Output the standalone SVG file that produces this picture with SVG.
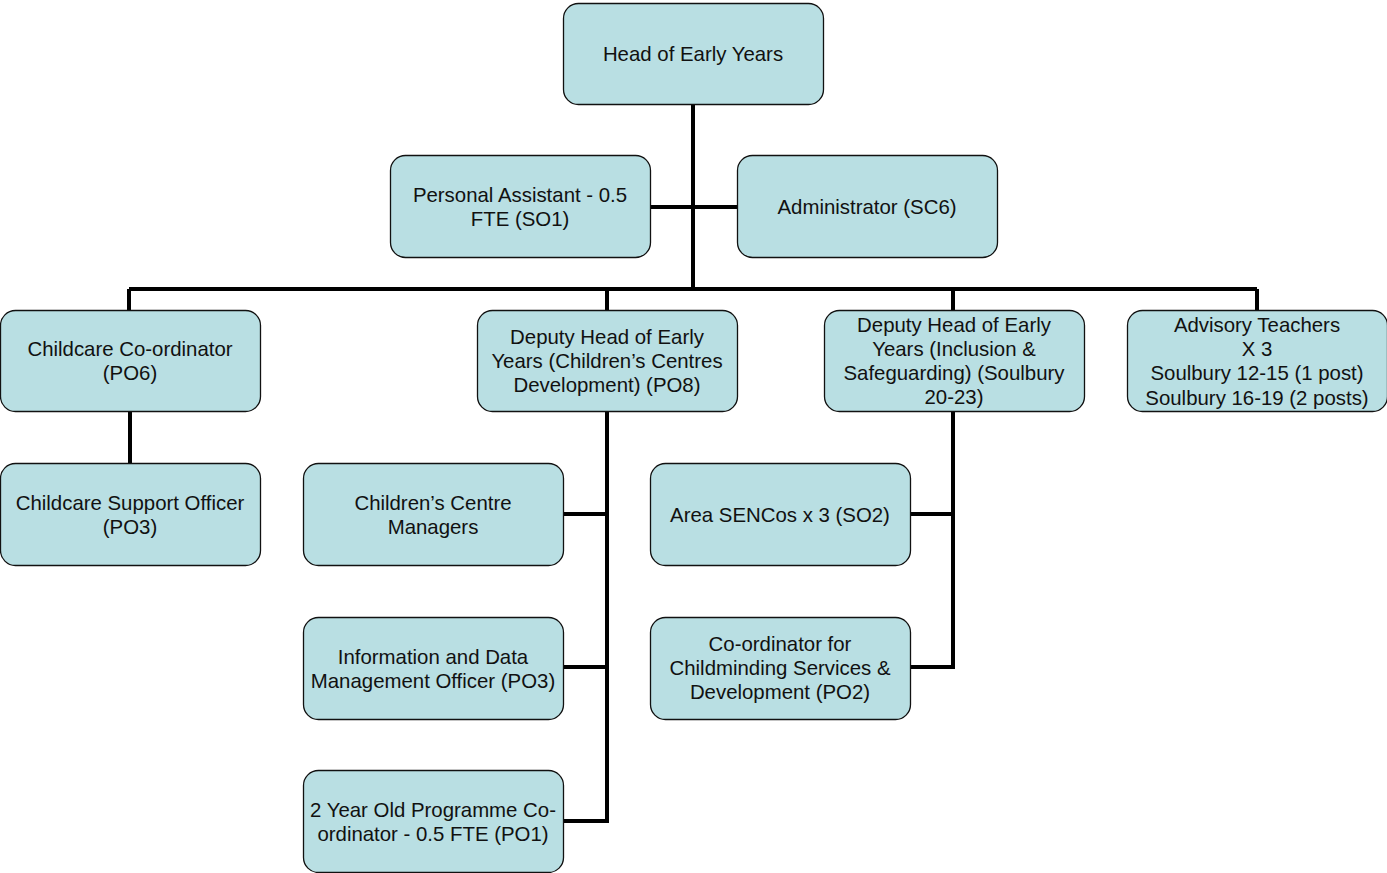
<svg xmlns="http://www.w3.org/2000/svg" width="1387" height="873" viewBox="0 0 1387 873">
<style>
.box{fill:#B9DFE3;stroke:#111;stroke-width:1.3}
.t{font-family:"Liberation Sans",Arial,sans-serif;font-size:20.4px;fill:#111;text-anchor:middle}
.c{fill:none;stroke:#000;stroke-width:4;stroke-linejoin:miter}
</style>
<rect width="1387" height="873" fill="#fff"/>
<g id="connectors">
<path class="c" d="M693 104V289M650 207H737M129 289H1257M129 289V310M607 289V310M953 289V310M1257 289V310"/>
<path class="c" d="M130 411V463"/>
<path class="c" d="M607 411V821H563M563 514H607M563 667H607"/>
<path class="c" d="M953 411V667H910M910 514H953"/>
</g>
<g id="head"><rect class="box" x="563.5" y="3.5" width="260" height="101" rx="15"/><text class="t" x="693" y="61">Head of Early Years</text></g>
<g id="pa"><rect class="box" x="390.5" y="155.5" width="260" height="102" rx="15"/><text class="t" x="520" y="202">Personal Assistant - 0.5</text><text class="t" x="520" y="226">FTE (SO1)</text></g>
<g id="admin"><rect class="box" x="737.5" y="155.5" width="260" height="102" rx="15"/><text class="t" x="867" y="214">Administrator (SC6)</text></g>
<g id="childcare-coord"><rect class="box" x="0.5" y="310.5" width="260" height="101" rx="15"/><text class="t" x="130" y="356">Childcare Co-ordinator</text><text class="t" x="130" y="380">(PO6)</text></g>
<g id="deputy1"><rect class="box" x="477.5" y="310.5" width="260" height="101" rx="15"/><text class="t" x="607" y="344">Deputy Head of Early</text><text class="t" x="607" y="368">Years (Children’s Centres</text><text class="t" x="607" y="392">Development) (PO8)</text></g>
<g id="deputy2"><rect class="box" x="824.5" y="310.5" width="260" height="101" rx="15"/><text class="t" x="954" y="332">Deputy Head of Early</text><text class="t" x="954" y="356">Years (Inclusion &amp;</text><text class="t" x="954" y="380">Safeguarding) (Soulbury</text><text class="t" x="954" y="404">20-23)</text></g>
<g id="advisory"><rect class="box" x="1127.5" y="310.5" width="260" height="101" rx="15"/><text class="t" x="1257" y="332">Advisory Teachers</text><text class="t" x="1257" y="356">X 3</text><text class="t" x="1257" y="380">Soulbury 12-15 (1 post)</text><text class="t" x="1257" y="405">Soulbury 16-19 (2 posts)</text></g>
<g id="childcare-support"><rect class="box" x="0.5" y="463.5" width="260" height="102" rx="15"/><text class="t" x="130" y="510">Childcare Support Officer</text><text class="t" x="130" y="534">(PO3)</text></g>
<g id="ccm"><rect class="box" x="303.5" y="463.5" width="260" height="102" rx="15"/><text class="t" x="433" y="510">Children’s Centre</text><text class="t" x="433" y="534">Managers</text></g>
<g id="info"><rect class="box" x="303.5" y="617.5" width="260" height="102" rx="15"/><text class="t" x="433" y="664">Information and Data</text><text class="t" x="433" y="688">Management Officer (PO3)</text></g>
<g id="twoyear"><rect class="box" x="303.5" y="770.5" width="260" height="102" rx="15"/><text class="t" x="433" y="817">2 Year Old Programme Co-</text><text class="t" x="433" y="841">ordinator - 0.5 FTE (PO1)</text></g>
<g id="senco"><rect class="box" x="650.5" y="463.5" width="260" height="102" rx="15"/><text class="t" x="780" y="522">Area SENCos x 3 (SO2)</text></g>
<g id="childminding"><rect class="box" x="650.5" y="617.5" width="260" height="102" rx="15"/><text class="t" x="780" y="651">Co-ordinator for</text><text class="t" x="780" y="675">Childminding Services &amp;</text><text class="t" x="780" y="699">Development (PO2)</text></g>
</svg>
